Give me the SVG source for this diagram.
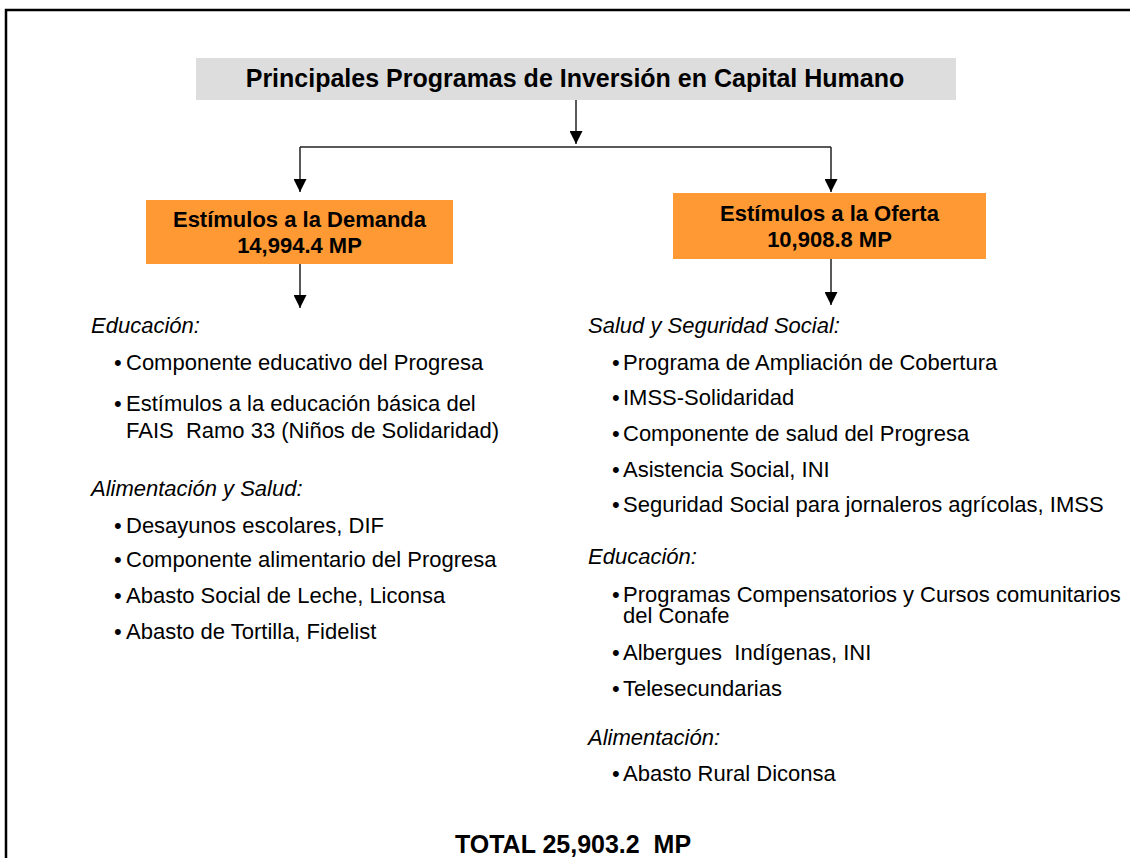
<svg xmlns="http://www.w3.org/2000/svg" width="1130" height="858" viewBox="0 0 1130 858">
<defs>
<style>
.t{font-family:"Liberation Sans",Arial,sans-serif;fill:#000}
.b{font-weight:bold}
.body{font-size:22px}
.hdr{font-size:22px;font-style:italic}
.box{font-size:22px;font-weight:bold}
.con{stroke:#222;stroke-width:1.5;fill:none}
</style>
<marker id="ah" markerUnits="userSpaceOnUse" markerWidth="13" markerHeight="13" refX="12" refY="6" orient="auto" viewBox="0 0 12 12">
<path d="M0,0 L12,6 L0,12 Z" fill="#000"/>
</marker>
</defs>
<rect width="1130" height="858" fill="#fff"/>
<g id="frame">
<path d="M6,858 L6,10 L1130,10" fill="none" stroke="#000" stroke-width="2.5"/>
</g>
<g id="title">
<rect x="196" y="58" width="760" height="42" fill="#dddddd"/>
<text class="t b" x="575" y="87" font-size="25" text-anchor="middle">Principales Programas de Inversión en Capital Humano</text>
</g>
<g id="connectors">
<path class="con" d="M576,100 L576,144" marker-end="url(#ah)"/>
<path class="con" d="M300,147 L831,147"/>
<path class="con" d="M300,147 L300,192" marker-end="url(#ah)"/>
<path class="con" d="M831,147 L831,192" marker-end="url(#ah)"/>
<path class="con" d="M300,264 L300,308" marker-end="url(#ah)"/>
<path class="con" d="M831,259 L831,305" marker-end="url(#ah)"/>
</g>
<g id="demanda">
<rect x="146" y="200" width="307" height="64" fill="#ff9933"/>
<text class="t box" x="299.5" y="227" text-anchor="middle">Estímulos a la Demanda</text>
<text class="t box" x="299.5" y="253" text-anchor="middle">14,994.4 MP</text>
</g>
<g id="oferta">
<rect x="673" y="193" width="313" height="66" fill="#ff9933"/>
<text class="t box" x="829.5" y="221" text-anchor="middle">Estímulos a la Oferta</text>
<text class="t box" x="829.5" y="247" text-anchor="middle">10,908.8 MP</text>
</g>
<g id="lista-demanda">
<text class="t hdr" x="91" y="333">Educación:</text>
<text class="t body" x="114" y="370">•</text><text class="t body" x="126" y="370">Componente educativo del Progresa</text>
<text class="t body" x="114" y="411">•</text><text class="t body" x="126" y="411">Estímulos a la educación básica del</text>
<text class="t body" x="126" y="438" xml:space="preserve">FAIS  Ramo 33 (Niños de Solidaridad)</text>
<text class="t hdr" x="91" y="496">Alimentación y Salud:</text>
<text class="t body" x="114" y="533">•</text><text class="t body" x="126" y="533">Desayunos escolares, DIF</text>
<text class="t body" x="114" y="567">•</text><text class="t body" x="126" y="567">Componente alimentario del Progresa</text>
<text class="t body" x="114" y="603">•</text><text class="t body" x="126" y="603">Abasto Social de Leche, Liconsa</text>
<text class="t body" x="114" y="639">•</text><text class="t body" x="126" y="639">Abasto de Tortilla, Fidelist</text>
</g>
<g id="lista-oferta">
<text class="t hdr" x="588" y="333">Salud y Seguridad Social:</text>
<text class="t body" x="612" y="370">•</text><text class="t body" x="623" y="370">Programa de Ampliación de Cobertura</text>
<text class="t body" x="612" y="405">•</text><text class="t body" x="623" y="405">IMSS-Solidaridad</text>
<text class="t body" x="612" y="441">•</text><text class="t body" x="623" y="441">Componente de salud del Progresa</text>
<text class="t body" x="612" y="477">•</text><text class="t body" x="623" y="477">Asistencia Social, INI</text>
<text class="t body" x="612" y="512">•</text><text class="t body" x="623" y="512">Seguridad Social para jornaleros agrícolas, IMSS</text>
<text class="t hdr" x="588" y="564">Educación:</text>
<text class="t body" x="612" y="602">•</text><text class="t body" x="623" y="602">Programas Compensatorios y Cursos comunitarios<tspan x="623" dy="21">del Conafe</tspan></text>
<text class="t body" x="612" y="660">•</text><text class="t body" x="623" y="660" xml:space="preserve">Albergues  Indígenas, INI</text>
<text class="t body" x="612" y="696">•</text><text class="t body" x="623" y="696">Telesecundarias</text>
<text class="t hdr" x="588" y="745">Alimentación:</text>
<text class="t body" x="612" y="781">•</text><text class="t body" x="623" y="781">Abasto Rural Diconsa</text>
</g>
<g id="total">
<text class="t b" x="573" y="853" font-size="25" text-anchor="middle" xml:space="preserve">TOTAL 25,903.2  MP</text>
</g>
</svg>
